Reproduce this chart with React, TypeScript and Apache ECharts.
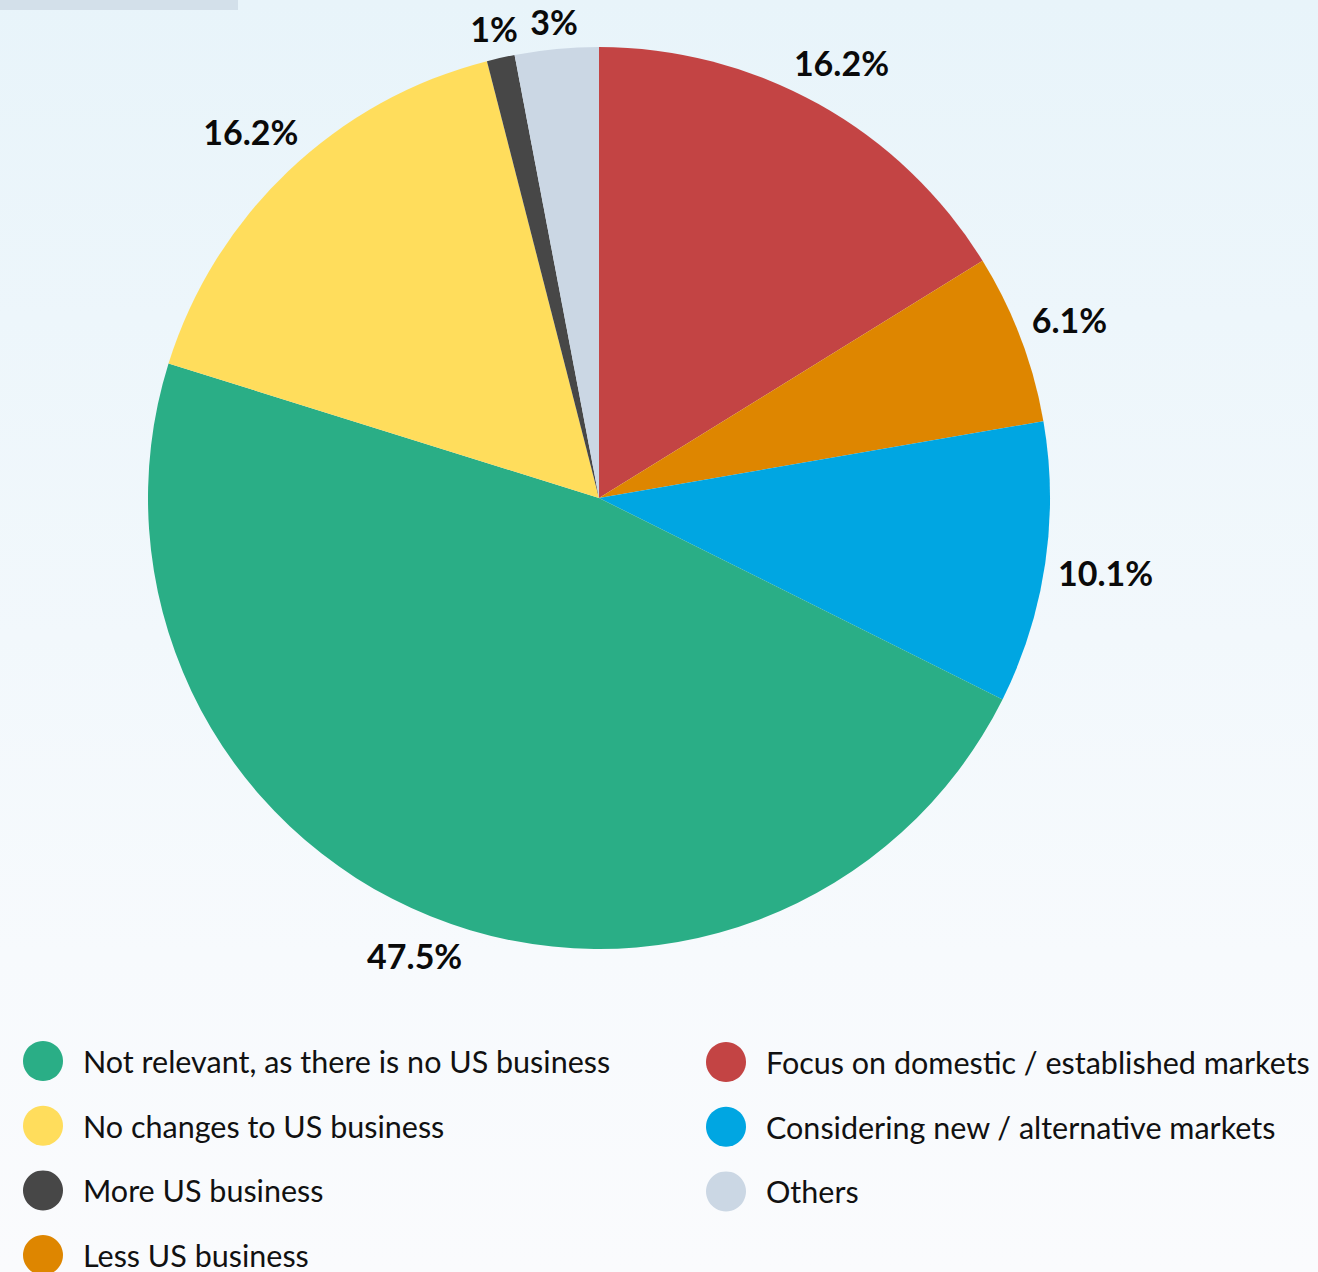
import React, { useEffect, useRef } from "react";
import * as echarts from "echarts";

const categories = [
  "Focus on domestic / established markets",
  "Less US business",
  "Considering new / alternative markets",
  "Not relevant, as there is no US business",
  "No changes to US business",
  "More US business",
  "Others",
];
const values = [16.2, 6.1, 10.1, 47.5, 16.2, 1, 3];
const labels = ["16.2%", "6.1%", "10.1%", "47.5%", "16.2%", "1%", "3%"];
const colors = ["#C34444", "#DE8600", "#00A6E2", "#2AAE86", "#FFDD5C", "#474747", "#CBD7E4"];

const legendLeft = [
  "Not relevant, as there is no US business",
  "No changes to US business",
  "More US business",
  "Less US business",
];
const legendRight = [
  "Focus on domestic / established markets",
  "Considering new / alternative markets",
  "Others",
];

const FONT = "Lato";
const CX = 599;
const CY = 498;
const R = 451;
const LABEL_GAP = 463;

export default function App() {
  const ref = useRef<HTMLDivElement>(null);
  useEffect(() => {
    if (!ref.current) return;
    const chart = echarts.init(ref.current, null, { renderer: "svg" });
    const mainData = categories.map((c, i) => ({
      name: c,
      value: values[i],
      itemStyle: { color: colors[i] },
      label: { formatter: labels[i] },
    }));
    const legendCommon = {
      orient: "vertical" as const,
      icon: "circle",
      itemWidth: 40,
      itemHeight: 40,
      itemGap: 24.7,
      padding: 0,
      height: 400,
      selectedMode: false,
      textStyle: {
        fontFamily: FONT,
        fontSize: 30.5,
        color: "#111",
        padding: [0, 0, 0, 15],
      },
    };
    chart.setOption({
      animation: false,
      backgroundColor: new echarts.graphic.LinearGradient(0, 0, 0, 1, [
        { offset: 0, color: "#E8F4FA" },
        { offset: 0.75, color: "#F7FAFD" },
        { offset: 1, color: "#FAFBFD" },
      ]),
      graphic: [
        {
          type: "rect",
          left: 0,
          top: 0,
          shape: { width: 238, height: 10 },
          style: { fill: "#D3E0EA" },
        },
      ],
      legend: [
        { ...legendCommon, left: 23, top: 1041, data: legendLeft },
        { ...legendCommon, left: 706, top: 1042, data: legendRight },
      ],
      series: [
        {
          type: "pie",
          center: [CX, CY],
          radius: [0, R],
          startAngle: 90,
          clockwise: true,
          silent: true,
          label: {
            show: true,
            position: "inside",
            fontFamily: FONT,
            fontWeight: "bold",
            fontSize: 34,
            color: "#0a0a0a",
          },
          labelLine: { show: false },
          labelLayout: (params: any) => {
            const r = params.labelRect;
            const lx = r.x + r.width / 2;
            const ly = r.y + r.height / 2;
            const vx = lx - CX;
            const vy = ly - CY;
            const d = Math.hypot(vx, vy) || 1;
            const ux = vx / d;
            const uy = vy / d;
            const D = LABEL_GAP + (r.width / 2) * Math.abs(ux) + (r.height / 2) * 0.8 * Math.abs(uy);
            return {
              x: CX + ux * D,
              y: CY + uy * D,
              align: "center",
              verticalAlign: "middle",
            };
          },
          data: mainData,
        },
      ],
    });
    return () => chart.dispose();
  }, []);
  return (
    <div
      ref={ref}
      style={{ position: "fixed", left: 0, top: 0, width: 1318, height: 1272 }}
    />
  );
}
